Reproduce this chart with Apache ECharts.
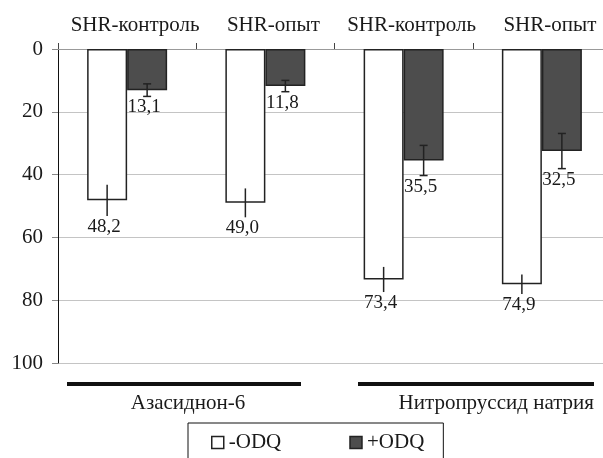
<!DOCTYPE html>
<html>
<head>
<meta charset="utf-8">
<script src="https://cdn.jsdelivr.net/npm/echarts@6/dist/echarts.min.js"></script>
<style>
html,body{margin:0;padding:0;background:#fff;}
#chart{width:603px;height:458px;}
</style>
</head>
<body>
<div id="chart"></div>
<script>
var categories = ['SHR-контроль', 'SHR-опыт', 'SHR-контроль', 'SHR-опыт'];
var minusODQ = [48.2, 49.0, 73.4, 74.9];
var plusODQ = [13.1, 11.8, 35.5, 32.5];
var minusErr = [5.0, 4.6, 4.0, 3.1];
var plusErr = [2.0, 1.8, 4.8, 5.6];
var groupLabels = ['Азасиднон-6', 'Нитропруссид натрия'];
var seriesNames = ['-ODQ', '+ODQ'];

var FONT = "'Liberation Serif', 'Times New Roman', serif";
var TXT = '#1a1a1a';
var GRAYFILL = '#4d4d4d';
var BORDER = '#222';
var BAR_W = 40;

function fmt(v) { return v.toFixed(1).replace('.', ','); }

function errData(vals, errs) {
  return vals.map(function (v, i) { return [i, v, errs[i]]; });
}

function makeErrRender(side, cap) {
  return function (params, api) {
    var idx = api.value(0), v = api.value(1), e = api.value(2);
    var c = api.coord([idx, v]);
    var x = c[0] + side * BAR_W / 2;
    var top = api.coord([idx, v - e])[1];
    var bot = api.coord([idx, v + e])[1];
    var children = [{
      type: 'line',
      shape: { x1: x, y1: top, x2: x, y2: bot },
      style: { stroke: BORDER, lineWidth: 1.5 }
    }];
    if (cap) {
      children.push({ type: 'line', shape: { x1: x - 4, y1: top, x2: x + 4, y2: top }, style: { stroke: BORDER, lineWidth: 1.5 } });
      children.push({ type: 'line', shape: { x1: x - 4, y1: bot, x2: x + 4, y2: bot }, style: { stroke: BORDER, lineWidth: 1.5 } });
    }
    children.push({
      type: 'text',
      style: {
        text: fmt(v), x: x - 3, y: bot + 11,
        align: 'center', verticalAlign: 'middle',
        font: '19px ' + FONT, fill: TXT
      }
    });
    return { type: 'group', children: children };
  };
}

var chart = echarts.init(document.getElementById('chart'), null, { renderer: 'canvas' });
chart.setOption({
  animation: false,
  backgroundColor: '#fff',
  grid: { left: 58, width: 553, top: 49, bottom: 95, containLabel: false, outerBoundsMode: 'none' },
  xAxis: {
    type: 'category',
    position: 'top',
    data: categories,
    axisLine: { show: true, lineStyle: { color: '#999', width: 1 } },
    axisTick: { show: true, length: 6, lineStyle: { color: '#444' } },
    axisLabel: {
      color: TXT, fontFamily: FONT, fontSize: 21, margin: 13,
      padding: [0, 0, 0, 16], interval: 0
    },
    splitLine: { show: false }
  },
  yAxis: {
    type: 'value',
    inverse: true,
    min: 0, max: 100, interval: 20,
    axisLine: { show: true, lineStyle: { color: '#111', width: 1 } },
    axisTick: { show: true, length: 6, lineStyle: { color: '#888' } },
    axisLabel: { color: TXT, fontFamily: FONT, fontSize: 21, margin: 15 },
    splitLine: { show: true, lineStyle: { color: '#c4c4c4', width: 1 } }
  },
  legend: {
    left: 188, top: 423,
    data: [
      { name: seriesNames[0], itemStyle: { color: '#fff', borderColor: BORDER, borderWidth: 1.5 } },
      { name: seriesNames[1], itemStyle: { color: GRAYFILL, borderColor: BORDER, borderWidth: 1.5 } }
    ],
    icon: 'rect', itemWidth: 12, itemHeight: 12, itemGap: 68,
    borderColor: '#111', borderWidth: 1,
    padding: [9, 19, 12, 23],
    textStyle: { color: TXT, fontFamily: FONT, fontSize: 21 }
  },
  series: [
    {
      name: seriesNames[0], type: 'bar', data: minusODQ,
      barWidth: BAR_W, barGap: '0%',
      itemStyle: { color: '#fff', borderColor: BORDER, borderWidth: 1.5 },
      z: 2
    },
    {
      name: seriesNames[1], type: 'bar', data: plusODQ,
      barWidth: BAR_W, barGap: '0%',
      itemStyle: { color: GRAYFILL, borderColor: BORDER, borderWidth: 1.5 },
      z: 2
    },
    {
      name: 'errMinus', type: 'custom', data: errData(minusODQ, minusErr),
      encode: { x: 0, y: 1 }, renderItem: makeErrRender(-1, false), z: 5, clip: false
    },
    {
      name: 'errPlus', type: 'custom', data: errData(plusODQ, plusErr),
      encode: { x: 0, y: 1 }, renderItem: makeErrRender(1, true), z: 5, clip: false
    }
  ],
  graphic: [
    { type: 'rect', shape: { x: 67, y: 382, width: 234, height: 4 }, style: { fill: '#111' } },
    { type: 'rect', shape: { x: 358, y: 382, width: 236, height: 4 }, style: { fill: '#111' } },
    { type: 'text', style: { text: groupLabels[0], x: 188, y: 403, align: 'center', verticalAlign: 'middle', font: '21px ' + FONT, fill: TXT } },
    { type: 'text', style: { text: groupLabels[1], x: 594, y: 403, align: 'right', verticalAlign: 'middle', font: '21px ' + FONT, fill: TXT } }
  ]
});
</script>
</body>
</html>
